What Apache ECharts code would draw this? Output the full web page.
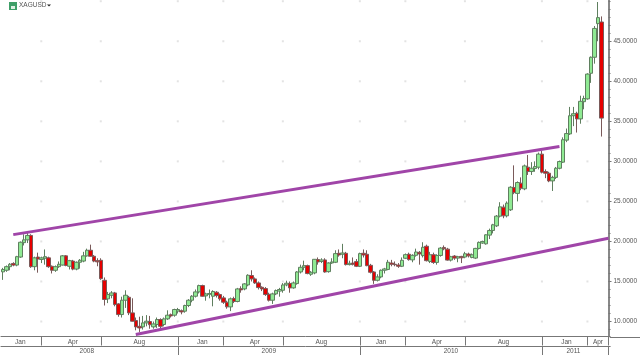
<!DOCTYPE html>
<html>
<head>
<meta charset="utf-8">
<title>XAGUSD</title>
<script src="https://cdn.jsdelivr.net/npm/echarts@6/dist/echarts.min.js"></script>
<style>
html,body{margin:0;padding:0;background:#fff;}
#container{width:640px;height:355px;}
</style>
</head>
<body>
<div id="container"></div>
<script>
//周线行情 (读图估算)
var opens = [
16.2,16.4,16.85,17.25,17.05,18.05,19.85,20.2,20.75,16.85,
18.05,17.75,17.9,17.95,16.9,16.4,16.85,17.05,18.2,16.9,
17.55,16.55,17.4,17.55,18.2,18.9,18.15,17.6,17.65,15.15,
12.83,13.28,13.57,12.2,10.87,12.66,13.03,11.08,10.12,9.4,
9.33,9.83,10.0,9.33,9.63,10.25,9.63,10.33,10.85,10.79,
11.3,11.35,11.29,12,12.66,13.16,13.7,14.49,13.2,13.4,
13.16,13.66,13.37,12.95,12.41,11.83,12.87,12.5,14.1,14.07,
14.57,15.74,15.32,14.82,14.28,14.11,13.4,12.66,13.45,13.8,
13.9,14.57,14.74,14.2,14.74,16.19,16.77,16.98,15.9,16.07,
17.73,17.5,17.69,16.23,17.31,17.4,18.52,18.4,18.52,17.11,
17.3,17.48,16.9,18.52,18.4,17.02,16.19,15.15,15.57,16.4,
16.5,17.3,17.15,17.05,16.9,17.9,18.4,17.7,18.27,18.64,
18.23,19.4,17.5,18.34,17.38,18.25,19.25,19.04,17.67,18.17,
17.92,18.13,18.05,18.42,18,17.92,19.13,19.8,19.7,20.79,
21.37,21.95,23.16,24.28,23.2,23.95,26.73,26,27.27,26.57,
29.27,28.73,29.1,29.27,30.9,28.73,28.52,27.56,28,29.14,
29.9,32.65,33.43,35.7,36,35.3,37.45,37.8,41,43,47.2,47.4
];
var closes = [
16.5,16.85,17.15,17.05,18.1,19.9,20.2,20.75,16.85,17.95,
17.8,17.95,18.1,16.85,16.4,16.85,17.15,18.2,17.0,17.6,
16.55,17.4,17.65,18.2,18.9,18.15,17.55,17.45,15.35,12.75,
13.37,13.57,12.12,10.87,12.66,13.28,11.08,10.04,9.33,9.2,
9.83,10.04,9.6,9.7,10.25,9.4,10.33,10.79,10.7,11.5,
11.5,11.2,12.0,12.66,13.16,13.7,14.49,13.16,13.45,13.5,
13.75,13.24,12.83,12.41,11.83,12.83,12.5,14.07,13.95,14.7,
15.78,15.32,14.82,14.24,14.07,13.37,12.66,13.45,13.87,14.0,
14.57,14.78,14.2,14.82,16.19,16.77,16.98,15.99,16.15,17.77,
17.44,17.69,16.19,17.31,17.44,18.48,18.31,18.56,17.11,17.27,
17.15,16.9,18.48,18.31,16.98,16.15,15.15,15.57,16.4,16.57,
17.4,17.15,17.1,16.9,17.65,18.35,17.73,18.27,18.68,18.44,
19.27,17.6,18.34,17.38,18.25,19.17,19.08,17.67,18.09,17.92,
18.09,17.96,18.46,18.2,18.34,19.13,19.88,20,20.83,21.37,
22.08,23.16,24.32,23.2,24.78,26.77,26.1,27.36,26.65,29.43,
28.73,29.14,29.35,30.9,28.65,28.52,27.56,28,29.14,29.98,
32.7,33.47,35.7,35.95,35.3,37.5,37.85,40.9,43,46.6,47.95,35.4
];
var lows = [
15.2,16.2,16.4,16.9,16.9,17.95,19.5,19.8,16.7,16.4,
16.1,17.3,17.1,16.7,16,16.2,16.7,17,16.9,16.5,
16.4,16.4,16.6,17.4,18.1,18.1,17.4,16.9,15.2,12,
12.3,12.9,11.9,10.6,10.5,11.7,10.8,10,8.9,8.7,
9,9.4,9.1,9.1,9.2,9.1,9.4,10.2,10.5,10.6,
11,10.9,11.1,11.8,12.4,13,13.5,13.1,12.6,12.9,
11.9,13,12.6,12.2,11.6,11.3,12.3,12.4,13.6,13.9,
14.4,15,14.7,14,13.8,13.2,12.5,12.2,13.3,13.1,
13.6,14.4,13.6,14.1,14.6,16,16.4,15.9,15.7,15.9,
17.1,17.3,16.1,16.1,17.2,17.3,18.1,17.9,17,17,
17,16.8,16.8,18,16.9,16,14.7,15,15.4,16,
16.4,16.9,16.9,16.7,16.8,17.8,17.6,17.4,18.1,17.1,
18,17.5,17.3,17.2,17.1,18.1,18.9,17.6,17.5,17.7,
17.4,17.3,17.9,18,17.9,17.8,19,19.7,19.6,20.3,
21,21.8,23,22.9,23,23.8,25.9,25,26.4,26.4,
28.3,28.3,28.7,29,28.5,27.9,27.4,26.3,27.8,29,
29.8,32.4,33.3,34.4,33.6,34.7,36.5,37.7,39.8,42.2,45,33.1
];
var highs = [
16.7,17,17.3,17.4,18.2,20,20.9,21.1,20.9,18.1,
18.6,18.1,19,18.1,17,17,17.5,18.3,18.3,17.7,
17.7,17.5,17.8,18.7,19.1,19.6,18.3,17.9,17.9,15.5,
13.7,13.8,13.7,12.3,13.1,13.9,13.2,12.9,10.5,10.6,
10.7,10.8,10.7,10,10.5,10.4,10.5,11.4,11,11.6,
11.7,11.5,12.1,12.8,13.3,14,14.6,14.6,13.6,14,
13.9,13.8,13.5,13.2,12.6,13,13.1,14.2,14.4,14.8,
15.9,16.4,15.5,15,14.4,14.3,13.6,13.6,14,14.2,
14.8,15.1,15,15,16.3,17.1,17.6,17.1,16.3,17.8,
18,17.9,17.9,17.4,17.9,18.9,19,19.7,18.7,17.6,
18,17.8,18.6,19,18.9,17.2,16.3,15.9,16.5,16.7,
17.7,17.7,17.5,17.3,18,18.5,18.6,18.4,19.1,18.8,
19.9,19.6,18.7,18.6,18.4,19.3,19.5,19.2,18.2,18.3,
18.2,18.2,18.7,18.6,18.5,19.2,20,20.1,20.9,21.6,
22.2,23.3,24.9,24.6,25,26.9,29.5,27.5,28,29.6,
30.8,29.9,30,31.1,31.3,29,28.7,28.2,29.3,30.1,
33,34.1,36.8,36.8,36.2,38.2,38.2,41,43.1,46.9,49.9,48.1
];
//坐标轴刻度
var priceLabels = [10,15,20,25,30,35,40,45];
var gridDotPrices = [10,15,20,25,30,35,40,45,50];
var monthNames = ['Jan','Apr','Aug','Jan','Apr','Aug','Jan','Apr','Aug','Jan','Apr'];
var monthLabelPos = [5,20,39,57,72,91,108,124,143,161,170];
var monthTickPos = [11,28,50,63,80,102,115,132,154,167,173];
var yearNames = ['2008','2009','2010','2011'];
var yearLabelPos = [24,76,128,163];
var yearTickPos = [50,102,154,173];
var gridDotPos = [11,28,50,63,80,102,115,132,154,167];
//趋势线两端 [周序号, 价格]
var upperTrend = [[3,20.85],[159,31.86]];
var lowerTrend = [[38,8.38],[173,20.39]];

var categories = [];
for(var i = 0; i<174; i++){
    categories.push('w'+i);
}
var candleData = [];
for(var i = 0; i<opens.length; i++){
    candleData.push([opens[i],closes[i],lows[i],highs[i]]);
}
var minorTicks = [];
for(var v = 9; v<=50; v++){
    minorTicks.push(v);
}
var gridDots = [];
for(var i = 0; i<gridDotPos.length; i++){
    for(var j = 0; j<gridDotPrices.length; j++){
        gridDots.push([gridDotPos[i],gridDotPrices[j]]);
    }
}

var axisColor = '#777';
var textColor = '#555';
var myChart = echarts.init(document.getElementById('container'));
var option = {
    animation:false,
    backgroundColor:'#fff',
    title:{
        text:'XAGUSD',
        left:19,
        top:2,
        padding:0,
        textStyle:{color:textColor,fontSize:6.5,fontWeight:'normal',fontFamily:'Liberation Sans'}
    },
    graphic:[
        {type:'rect',shape:{x:9,y:2,width:8,height:8},style:{fill:'#3f9f68'}},
        {type:'rect',shape:{x:11,y:6,width:4,height:3},style:{fill:'#dff0e4'}},
        {type:'polygon',shape:{points:[[47,4.5],[51,4.5],[49,6.5]]},style:{fill:'#222'}},
        {type:'line',shape:{x1:610,y1:337.5,x2:640,y2:337.5},style:{stroke:axisColor,lineWidth:1}}
    ],
    grid:{left:1,top:0,width:610.7,height:337},
    xAxis:[
        {
            type:'category',
            data:categories,
            position:'bottom',
            axisLine:{lineStyle:{color:axisColor,width:1}},
            axisTick:{show:true,alignWithLabel:true,customValues:monthTickPos,length:9,lineStyle:{color:axisColor}},
            axisLabel:{
                customValues:monthLabelPos,
                margin:2,
                fontSize:6.5,
                color:textColor,
                fontFamily:'Liberation Sans',
                formatter:function(value,index){
                    return monthNames[monthLabelPos.indexOf(index)];
                }
            },
            splitLine:{show:false}
        },
        {
            type:'category',
            data:categories,
            position:'bottom',
            offset:9.5,
            axisLine:{lineStyle:{color:axisColor,width:1}},
            axisTick:{show:true,alignWithLabel:true,customValues:yearTickPos,length:9,lineStyle:{color:axisColor}},
            axisLabel:{
                customValues:yearLabelPos,
                margin:2,
                fontSize:6.5,
                color:textColor,
                fontFamily:'Liberation Sans',
                formatter:function(value,index){
                    return yearNames[yearLabelPos.indexOf(index)];
                }
            },
            splitLine:{show:false}
        }
    ],
    yAxis:[
        {
            type:'value',
            position:'right',
            offset:-1.7,
            min:8.13,
            max:50.15,
            axisLine:{show:true,lineStyle:{color:'#888',width:2}},
            axisTick:{show:true,customValues:priceLabels,length:3,lineStyle:{color:axisColor}},
            axisLabel:{
                customValues:priceLabels,
                margin:5,
                fontSize:6.5,
                color:textColor,
                fontFamily:'Liberation Sans',
                formatter:function(value){
                    return value.toFixed(4);
                }
            },
            splitLine:{show:false}
        },
        {
            type:'value',
            position:'right',
            offset:-1.7,
            min:8.13,
            max:50.15,
            axisLine:{show:false},
            axisTick:{show:true,customValues:minorTicks,length:2,lineStyle:{color:axisColor}},
            axisLabel:{show:false},
            splitLine:{show:false}
        }
    ],
    series:[
        {
            name:'grid',
            type:'scatter',
            data:gridDots,
            symbol:'rect',
            symbolSize:2,
            silent:true,
            itemStyle:{color:'#dcdcdc'},
            z:1
        },
        {
            name:'XAGUSD',
            type:'candlestick',
            data:candleData,
            barWidth:4,
            itemStyle:{
                color:'#8fea93',
                color0:'#e60000',
                borderColor:'#5f7f5f',
                borderColor0:'#7a5a5a',
                borderWidth:1
            },
            z:2
        },
        {
            name:'upper',
            type:'line',
            data:upperTrend,
            symbol:'none',
            lineStyle:{color:'#a045a8',width:3},
            z:3
        },
        {
            name:'lower',
            type:'line',
            data:lowerTrend,
            symbol:'none',
            lineStyle:{color:'#a045a8',width:3},
            z:3
        }
    ]
};
myChart.setOption(option);
</script>
</body>
</html>
